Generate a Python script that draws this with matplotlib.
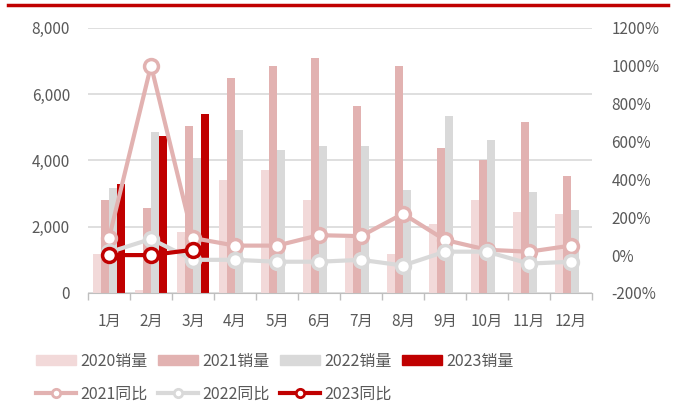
import numpy as np
import matplotlib
matplotlib.use('Agg')
import matplotlib.pyplot as plt
from matplotlib.lines import Line2D
from matplotlib.patches import Patch
from matplotlib.ticker import FuncFormatter, FixedLocator

plt.rcParams['font.family'] = ['Noto Sans CJK SC', 'DejaVu Sans']

# DATA
months = ['1月', '2月', '3月', '4月', '5月', '6月', '7月', '8月', '9月', '10月', '11月', '12月']
sales_2020 = [1180, 100, 1850, 3410, 3710, 2810, 1660, 1180, 2090, 2810, 2450, 2390]
sales_2021 = [2810, 2570, 5040, 6480, 6840, 7080, 5640, 6840, 4380, 4020, 5160, 3530]
sales_2022 = [3170, 4860, 4075, 4920, 4320, 4440, 4440, 3110, 5340, 4620, 3050, 2510]
sales_2023 = [3300, 4740, 5400]
yoy_2021 = [90, 1000, 90, 50, 50, 105, 100, 218, 80, 28, 18, 50]
yoy_2022 = [15, 85, -25, -25, -35, -35, -25, -55, 18, 18, -45, -35]
yoy_2023 = [0, 0, 28]

# COLORS
c2020 = '#F2D9D9'
c2021 = '#E2B2B1'
c2022 = '#D9D9D9'
c2023 = '#C00000'
txt = '#595959'

fig = plt.figure(figsize=(6.73, 4.07), dpi=100)
ax = fig.add_axes([0.1308, 0.2801, 0.7488, 0.652])
ax2 = ax.twinx()

x = np.arange(12)
w = 0.19
ax.bar(x - 1.5 * w, sales_2020, w, color=c2020, zorder=2)
ax.bar(x - 0.5 * w, sales_2021, w, color=c2021, zorder=2)
ax.bar(x + 0.5 * w, sales_2022, w, color=c2022, zorder=2)
ax.bar(x[:3] + 1.5 * w, sales_2023, w, color=c2023, zorder=2)

ax.set_ylim(0, 8000)
ax.set_xlim(-0.5, 11.5)
ax.set_yticks([0, 2000, 4000, 6000, 8000])
ax.yaxis.set_major_formatter(FuncFormatter(lambda v, p: f'{int(v):,}'))
ax.grid(axis='y', color='#D9D9D9', linewidth=1.2, zorder=0)
ax.set_axisbelow(True)
ax.set_xticks(x)
ax.set_xticklabels(months)
ax.xaxis.set_minor_locator(FixedLocator(np.arange(-0.5, 12, 1)))
ax.tick_params(axis='x', which='major', length=0, pad=14, labelsize=11, labelcolor=txt)
ax.tick_params(axis='x', which='minor', length=5, width=1, color='#BFBFBF')
ax.tick_params(axis='y', length=0, pad=13, labelsize=11, labelcolor=txt)
for s in ['top', 'left', 'right']:
    ax.spines[s].set_visible(False)
    ax2.spines[s].set_visible(False)
ax.spines['bottom'].set_color('#BFBFBF')
ax2.spines['bottom'].set_visible(False)

# LINES
mk = dict(marker='o', markersize=10, markerfacecolor='white', markeredgewidth=2.5, linewidth=3)
ax2.plot(x, yoy_2021, color=c2021, zorder=3, **mk)
ax2.plot(x, yoy_2022, color=c2022, zorder=3, **mk)
ax2.plot(x[:3], yoy_2023, color=c2023, zorder=4, **mk)
ax2.set_ylim(-200, 1200)
ax2.set_yticks(np.arange(-200, 1201, 200))
ax2.yaxis.set_major_formatter(FuncFormatter(lambda v, p: f'{int(v)}%'))
ax2.tick_params(axis='y', length=0, pad=14, labelsize=11, labelcolor=txt)

# LEGEND
bar_handles = [Patch(color=c) for c in [c2020, c2021, c2022, c2023]]
bar_labels = ['2020销量', '2021销量', '2022销量', '2023销量']
leg1 = fig.legend(bar_handles, bar_labels, ncol=4, loc='center left',
                  bbox_to_anchor=(0.032, 0.113), frameon=False, fontsize=11.5,
                  handlelength=2.5, handleheight=0.6, columnspacing=0.62, handletextpad=0.3,
                  labelcolor=txt)
lmk = dict(marker='o', markersize=6, markerfacecolor='white', markeredgewidth=2, linewidth=3)
line_handles = [Line2D([], [], color=c, **lmk) for c in [c2021, c2022, c2023]]
line_labels = ['2021同比', '2022同比', '2023同比']
leg2 = fig.legend(line_handles, line_labels, ncol=3, loc='center left',
                  bbox_to_anchor=(0.032, 0.031), frameon=False, fontsize=11.5,
                  handlelength=2.5, columnspacing=0.62, handletextpad=0.3,
                  labelcolor=txt)

# TOP RED LINE
fig.add_artist(Line2D([8 / 673, 668 / 673], [1 - 4.5 / 407, 1 - 4.5 / 407],
                      color=c2023, linewidth=2.5, transform=fig.transFigure))

fig.savefig('out.png', dpi=100)
